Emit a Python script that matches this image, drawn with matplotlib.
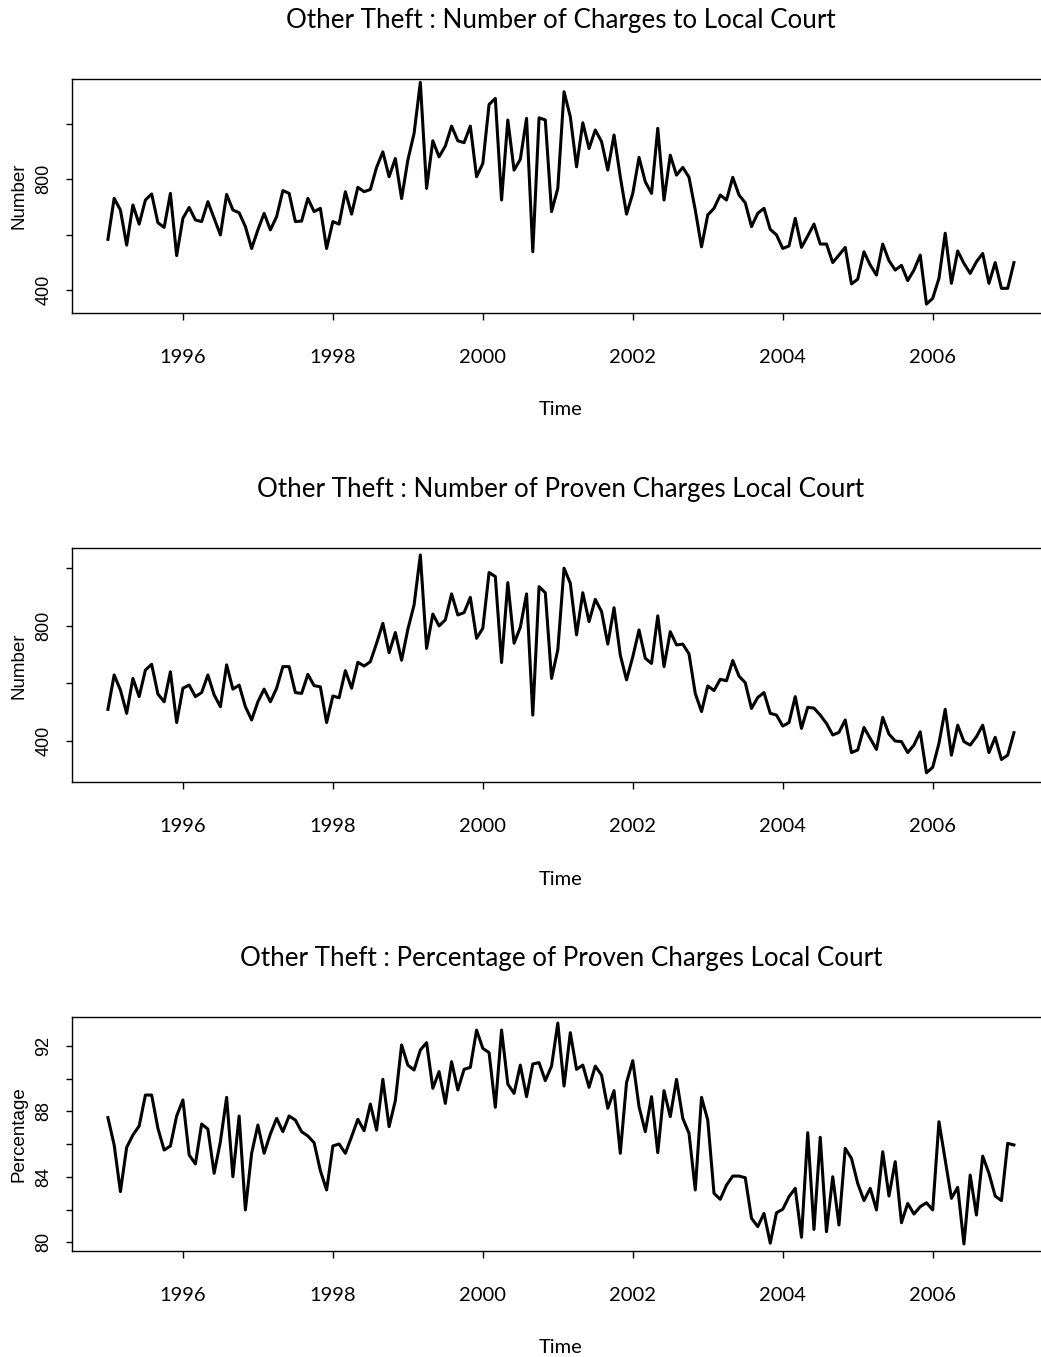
import numpy as np
import matplotlib.pyplot as plt

# monthly series, Jan 1995 .. Feb 2007
START_YEAR = 1995

charges = [
    583, 731, 689, 562, 707, 638, 725, 747, 643, 626, 749, 524,
    659, 698, 653, 647, 719, 659, 599, 745, 689, 679, 629, 550,
    617, 677, 617, 665, 759, 749, 647, 649, 731, 683, 695, 550,
    647, 638, 755, 674, 771, 755, 763, 843, 899, 809, 875, 730,
    869, 966, 1150, 767, 939, 881, 920, 992, 939, 932, 992, 809,
    857, 1070, 1092, 725, 1014, 833, 872, 1020, 538, 1022, 1014, 683,
    767, 1116, 1026, 845, 1004, 911, 978, 936, 833, 960, 809, 674,
    749, 879, 791, 749, 984, 725, 887, 815, 843, 807, 689, 556,
    671, 695, 743, 725, 807, 743, 715, 629, 677, 695, 619, 599,
    550, 559, 659, 554, 595, 638, 566, 566, 499, 526, 554, 422,
    439, 538, 490, 454, 566, 506, 472, 489, 434, 472, 526, 349,
    370, 442, 605, 424, 541, 496, 460, 502, 532, 424, 499, 406,
    406, 499,
]

proven = [
    510, 629, 577, 496, 617, 554, 646, 666, 563, 536, 640, 464,
    583, 594, 554, 568, 629, 560, 519, 664, 580, 594, 519, 473,
    536, 580, 536, 583, 658, 658, 568, 565, 631, 592, 588, 464,
    556, 550, 644, 583, 673, 660, 675, 739, 808, 706, 776, 680,
    787, 872, 1045, 721, 840, 799, 820, 910, 837, 845, 898, 756,
    791, 984, 970, 672, 949, 739, 794, 910, 490, 935, 914, 617,
    716, 999, 947, 768, 914, 814, 891, 849, 736, 862, 698, 612,
    692, 785, 687, 669, 834, 658, 779, 733, 736, 702, 565, 502,
    591, 575, 614, 609, 679, 625, 602, 513, 551, 568, 496, 490,
    452, 464, 554, 444, 517, 514, 490, 461, 421, 430, 473, 360,
    369, 447, 409, 371, 482, 424, 400, 398, 360, 386, 432, 290,
    309, 392, 510, 351, 455, 398, 386, 415, 455, 360, 413, 336,
    351, 429,
]

pct_proven = [
    87.62, 85.95, 83.10, 85.80, 86.56, 87.11, 89.00, 89.00, 86.97, 85.64, 85.89, 87.72,
    88.70, 85.34, 84.79, 87.23, 86.92, 84.22, 86.15, 88.86, 84.01, 87.72, 81.98, 85.44,
    87.17, 85.44, 86.62, 87.58, 86.76, 87.72, 87.47, 86.76, 86.50, 86.09, 84.38, 83.20,
    85.89, 86.01, 85.44, 86.46, 87.52, 86.82, 88.45, 86.86, 89.96, 87.07, 88.66, 92.06,
    90.83, 90.53, 91.75, 92.20, 89.41, 90.43, 88.49, 91.04, 89.31, 90.57, 90.69, 92.97,
    91.85, 91.59, 88.25, 92.97, 89.67, 89.10, 90.83, 88.90, 90.90, 90.98, 89.88, 90.77,
    93.40, 89.55, 92.81, 90.57, 90.83, 89.47, 90.77, 90.22, 88.19, 89.27, 85.44, 89.76,
    91.10, 88.29, 86.76, 88.90, 85.48, 89.27, 87.68, 89.96, 87.58, 86.66, 83.20, 88.86,
    87.47, 82.99, 82.63, 83.50, 84.05, 84.05, 83.95, 81.47, 80.96, 81.77, 79.95, 81.81,
    82.02, 82.79, 83.30, 80.31, 86.70, 80.79, 86.42, 80.65, 84.01, 81.06, 85.74, 85.13,
    83.60, 82.55, 83.30, 81.98, 85.54, 82.83, 84.93, 81.20, 82.38, 81.73, 82.18, 82.42,
    81.98, 87.37, 85.03, 82.69, 83.36, 79.90, 84.11, 81.67, 85.27, 84.22, 82.83, 82.55,
    86.05, 85.95,
]

titles = [
    "Other Theft : Number of Charges to Local Court",
    "Other Theft : Number of Proven Charges Local Court",
    "Other Theft : Percentage of Proven Charges Local Court",
]
ylabels = ["Number", "Number", "Percentage"]
year_ticks = [1996, 1998, 2000, 2002, 2004, 2006]

count_ticks = [400, 600, 800, 1000]
count_labels = ["400", "", "800", ""]
pct_ticks = [80, 82, 84, 86, 88, 90, 92]
pct_labels = ["80", "", "84", "", "88", "", "92"]

TITLE_FONT = "Lato"
AXIS_FONT = "Liberation Sans"

t = START_YEAR + np.arange(len(charges)) / 12.0

W, H = 1041, 1357
fig = plt.figure(figsize=(W / 100, H / 100), dpi=100)

# pixel boxes (left, top, right, bottom) for each panel
boxes = [
    (71.7, 79.3, 1050.2, 312.7),
    (71.7, 548.3, 1050.2, 782.3),
    (71.7, 1017.3, 1050.2, 1250.7),
]
ylims = [(318, 1161), (257, 1068), (79.49, 93.75)]
series = [charges, proven, pct_proven]
yticks = [(count_ticks, count_labels), (count_ticks, count_labels), (pct_ticks, pct_labels)]

for k in range(3):
    l, tp, r, b = boxes[k]
    ax = fig.add_axes([l / W, 1 - b / H, (r - l) / W, (b - tp) / H])
    ax.plot(t, series[k], color="black", lw=2.2, solid_joinstyle="round")
    ax.set_xlim(1994.517, 2007.567)
    ax.set_ylim(*ylims[k])

    ax.set_xticks(year_ticks)
    ax.set_xticklabels([str(y) for y in year_ticks], fontfamily=TITLE_FONT, fontsize=14.5)
    ax.tick_params(axis="x", direction="out", length=5, width=1, pad=21)

    ticks, labels = yticks[k]
    ax.set_yticks(ticks)
    ax.set_yticklabels(labels, rotation=90, va="center", fontfamily=AXIS_FONT, fontsize=13)
    ax.tick_params(axis="y", direction="out", length=4, width=1, pad=10)

    for sp in ax.spines.values():
        sp.set_linewidth(1.0)
        sp.set_color("black")

    h = b - tp
    ax.text(0.5, 1 + 59 / h, titles[k], transform=ax.transAxes, ha="center",
            va="center", fontfamily=TITLE_FONT, fontsize=18.7)
    ax.text(0.5, -97 / h, "Time", transform=ax.transAxes, ha="center",
            va="center", fontfamily=TITLE_FONT, fontsize=14.5)
    ax.text(-53 / (r - l), 0.5, ylabels[k], transform=ax.transAxes, ha="center",
            va="center", rotation=90, fontfamily=AXIS_FONT, fontsize=13.5)

fig.savefig("out.png", dpi=100)
